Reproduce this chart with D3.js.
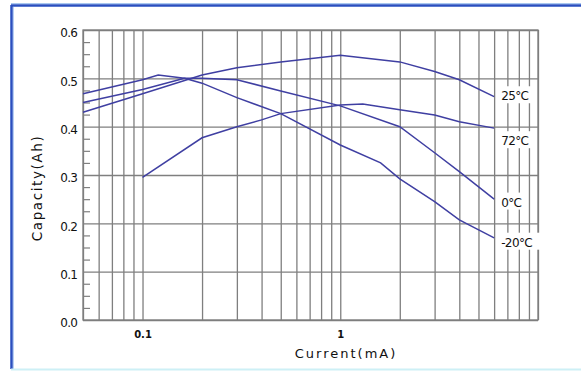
<!DOCTYPE html>
<html><head><meta charset="utf-8">
<script src="https://cdn.jsdelivr.net/npm/d3@7"></script>
<style>body{margin:0;background:#fff}svg{display:block}</style>
</head><body>
<svg id="c" width="581" height="372"></svg>
<script>
// ---- data ----
const xGrid = [0.05,0.06,0.07,0.08,0.09,0.1,0.2,0.3,0.4,0.5,0.6,0.7,0.8,0.9,1,2,3,4,5,6,7,8,9,10];
const xTickLabels = [0.1, 1];
const yTicks = [0,0.1,0.2,0.3,0.4,0.5,0.6];
const seriesNames = ["25°C","72°C","0°C","-20°C"];
const current25 = [0.05,0.1,0.2,0.3,0.5,1,2,3,4,6];
const cap25     = [0.430,0.468,0.507,0.522,0.534,0.548,0.534,0.514,0.497,0.462];
const current72 = [0.1,0.2,0.3,0.4,0.5,1,1.3,2,3,4,6];
const cap72     = [0.295,0.377,0.400,0.414,0.427,0.445,0.447,0.435,0.424,0.410,0.397];
const current0  = [0.05,0.1,0.163,0.2,0.3,0.5,1,2,3,4,6];
const cap0      = [0.450,0.477,0.500,0.500,0.497,0.474,0.443,0.400,0.346,0.307,0.250];
const currentM20= [0.05,0.1,0.12,0.163,0.2,0.3,0.5,1,1.6,2,3,4,6];
const capM20    = [0.468,0.497,0.507,0.500,0.490,0.460,0.427,0.362,0.325,0.292,0.245,0.207,0.170];
const labelValues = [0.465, 0.372, 0.245, 0.162];

const svg = d3.select("#c");
const x = d3.scaleLog().domain([0.05,10]).range([83,538]);
const y = d3.scaleLinear().domain([0,0.6]).range([320,30]);

// frame
svg.append("line").attr("x1",11).attr("x2",581).attr("y1",3.5).attr("y2",3.5).attr("stroke","#a9c8f0").attr("stroke-width",1);
svg.append("line").attr("x1",11).attr("x2",581).attr("y1",5.5).attr("y2",5.5).attr("stroke","#2a4fbf").attr("stroke-width",2.5);
svg.append("line").attr("x1",11.5).attr("x2",11.5).attr("y1",5).attr("y2",369).attr("stroke","#2a4fbf").attr("stroke-width",2.5);
svg.append("line").attr("x1",13.5).attr("x2",13.5).attr("y1",7).attr("y2",369).attr("stroke","#b8d0f4").attr("stroke-width",1);
svg.append("line").attr("x1",11).attr("x2",581).attr("y1",369.5).attr("y2",369.5).attr("stroke","#cdf0f6").attr("stroke-width",2);

const gridColor = "#7f7f7f";
// vertical grid
svg.append("g").attr("transform","translate(0,320)")
  .call(d3.axisBottom(x).tickValues(xGrid).tickSize(-290).tickFormat(""))
  .call(g=>g.select(".domain").remove())
  .call(g=>g.selectAll("line").attr("stroke",gridColor).attr("stroke-width",1.3));
// horizontal grid
svg.append("g").attr("transform","translate(83,0)")
  .call(d3.axisLeft(y).tickValues(yTicks).tickSize(-455).tickFormat(""))
  .call(g=>g.select(".domain").remove())
  .call(g=>g.selectAll("line").attr("stroke",gridColor).attr("stroke-width",1.3));
// minor y ticks inward
const minor = d3.range(0,0.6001,0.025).filter(v=>Math.abs(v*10-Math.round(v*10))>1e-6);
svg.append("g").attr("transform","translate(83,0)")
  .call(d3.axisRight(y).tickValues(minor).tickSize(7).tickFormat(""))
  .call(g=>g.select(".domain").remove())
  .call(g=>g.selectAll("line").attr("stroke",gridColor).attr("stroke-width",1.2));
// frame of plot
svg.append("rect").attr("x",x(0.05)).attr("y",y(0.6)).attr("width",x(10)-x(0.05)).attr("height",y(0)-y(0.6))
  .attr("fill","none").attr("stroke",gridColor).attr("stroke-width",1.3);

// y tick labels
svg.append("g").attr("transform","translate(80,3)")
  .call(d3.axisLeft(y).tickValues(yTicks).tickSize(0).tickFormat(d3.format(".1f")))
  .call(g=>g.select(".domain").remove())
  .call(g=>g.selectAll("text").attr("font-family","DejaVu Sans").attr("font-size",12).attr("fill","#111").attr("letter-spacing",-0.8));
// x tick labels
svg.append("g").attr("transform","translate(0,328)")
  .call(d3.axisBottom(x).tickValues(xTickLabels).tickSize(0).tickFormat(d=>String(d)))
  .call(g=>g.select(".domain").remove())
  .call(g=>g.selectAll("text").attr("font-family","DejaVu Sans").attr("font-size",10).attr("font-weight","bold").attr("fill","#111"));

// axis titles
svg.append("text").attr("x",346).attr("y",358).attr("text-anchor","middle")
  .attr("font-family","DejaVu Sans").attr("font-size",13).attr("fill","#111").attr("letter-spacing",2).text("Current(mA)");
svg.append("text").attr("transform","translate(42,188) rotate(-90)").attr("text-anchor","middle")
  .attr("font-family","DejaVu Sans").attr("font-size",13.5).attr("fill","#111").attr("letter-spacing",1.6).text("Capacity(Ah)");

// curves
const line = d3.line().x(d=>x(d[0])).y(d=>y(d[1]));
const series = [
  d3.zip(current25,cap25), d3.zip(current72,cap72), d3.zip(current0,cap0), d3.zip(currentM20,capM20)
];
svg.append("g").selectAll("path").data(series).join("path")
  .attr("d",line).attr("fill","none").attr("stroke","#3f3fa2").attr("stroke-width",1.5);

// labels
const lg = svg.append("g").selectAll("g").data(seriesNames).join("g")
  .attr("transform",(d,i)=>`translate(${x(6)+7},${y(labelValues[i])})`);
lg.append("rect").attr("x",-1).attr("y",-9).attr("width",d=>d.length*8+2).attr("height",17).attr("fill","#fff");
lg.append("text").attr("y",5).attr("font-family","DejaVu Sans").attr("font-size",12).attr("fill","#111")
  .attr("letter-spacing",-0.6).text(d=>d);
</script>
</body></html>
